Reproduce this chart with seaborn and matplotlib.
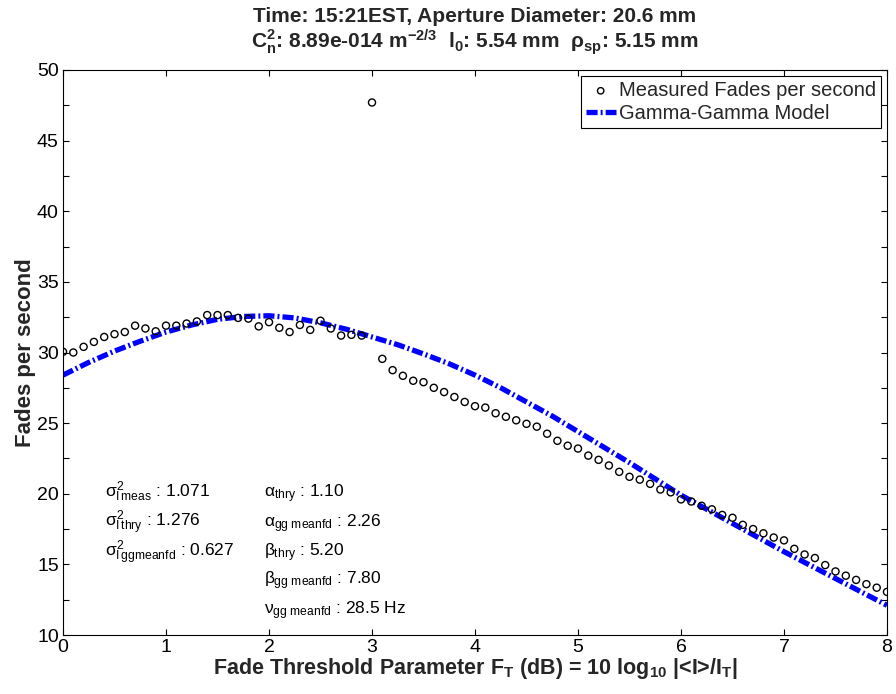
import numpy as np
import pandas as pd
import matplotlib
matplotlib.use("Agg")
import matplotlib.pyplot as plt
import seaborn as sns
from matplotlib.ticker import MultipleLocator

# ---- data ----
x_meas = np.round(np.arange(81) * 0.1, 1)
fades_meas = [30.05, 30.0, 30.4, 30.75, 31.1, 31.3, 31.45, 31.9, 31.7, 31.5,
              31.9, 31.9, 32.05, 32.2, 32.65, 32.65, 32.65, 32.45, 32.4, 31.85,
              32.15, 31.75, 31.45, 31.95, 31.6, 32.25, 31.7, 31.2, 31.25, 31.2,
              47.7, 29.55, 28.75, 28.35, 28.0, 27.9, 27.5, 27.2, 26.85, 26.5,
              26.2, 26.1, 25.7, 25.45, 25.2, 24.95, 24.75, 24.25, 23.75, 23.4,
              23.2, 22.7, 22.4, 22.0, 21.55, 21.2, 21.0, 20.7, 20.3, 20.1,
              19.6, 19.45, 19.15, 18.9, 18.5, 18.3, 17.8, 17.5, 17.2, 16.9,
              16.7, 16.1, 15.7, 15.45, 14.95, 14.5, 14.2, 13.9, 13.6, 13.35,
              13.05]

x_model = [0.0, 0.25, 0.5, 0.75, 1.0, 1.25, 1.5, 1.75, 2.0, 2.25, 2.5, 2.75,
           3.0, 3.25, 3.5, 3.75, 4.0, 4.25, 4.5, 4.75, 5.0, 5.25, 5.5, 5.75,
           6.0, 6.25, 6.5, 6.75, 7.0, 7.25, 7.5, 7.75, 8.0]
fades_model = [28.4, 29.3, 30.1, 30.8, 31.45, 31.95, 32.35, 32.55, 32.6, 32.45,
               32.1, 31.65, 31.1, 30.55, 29.9, 29.2, 28.4, 27.5, 26.5, 25.5,
               24.4, 23.3, 22.2, 21.05, 19.9, 18.9, 17.9, 16.9, 15.9, 14.95,
               14.0, 13.05, 12.1]

x_ticks = [0, 1, 2, 3, 4, 5, 6, 7, 8]
y_ticks = [10, 15, 20, 25, 30, 35, 40, 45, 50]

left_lines = [r"$\sigma^2_{I\,meas}$ : 1.071",
              r"$\sigma^2_{I\,thry}$ : 1.276",
              r"$\sigma^2_{I\,ggmeanfd}$ : 0.627"]
right_lines = [r"$\alpha_{thry}$ : 1.10",
               r"$\alpha_{gg\ meanfd}$ : 2.26",
               r"$\beta_{thry}$ : 5.20",
               r"$\beta_{gg\ meanfd}$ : 7.80",
               r"$\nu_{gg\ meanfd}$ : 28.5 Hz"]
left_y = [19.75, 17.62, 15.55]
right_y = [19.75, 17.62, 15.6, 13.59, 11.47]

# ---- style ----
sns.set_theme(style="ticks")
plt.rcParams["font.family"] = ["Liberation Sans", "DejaVu Sans"]
plt.rcParams["mathtext.fontset"] = "custom"
plt.rcParams["mathtext.rm"] = "Liberation Sans"
plt.rcParams["mathtext.it"] = "Liberation Sans"
plt.rcParams["mathtext.bf"] = "Liberation Sans:bold"
plt.rcParams["lines.scale_dashes"] = False

fig = plt.figure(figsize=(8.96, 6.94), dpi=100)
ax = fig.add_axes([63 / 896, 1 - 635 / 694, (887 - 63) / 896, (635 - 70) / 694])

df_meas = pd.DataFrame({"x": x_meas, "y": fades_meas})
df_model = pd.DataFrame({"x": x_model, "y": fades_model})

sns.scatterplot(data=df_meas, x="x", y="y", ax=ax, marker="o", s=26,
                facecolor="none", edgecolor="black", linewidth=1.0,
                label="Measured Fades per second", zorder=3)
sns.lineplot(data=df_model, x="x", y="y", ax=ax, color="#0000ff", linewidth=3.8,
             label="Gamma-Gamma Model", zorder=2)
ax.lines[-1].set_linestyle((0, (8, 2.2, 1.4, 2.2)))

ax.set_xlim(0, 8)
ax.set_ylim(10, 50)
ax.set_xticks(x_ticks)
ax.set_yticks(y_ticks)
ax.yaxis.set_minor_locator(MultipleLocator(2.5))
ax.tick_params(axis="both", which="both", direction="in", top=True, right=True,
               length=4.5, width=0.8, color="black", labelsize=14, pad=3,
               labelcolor="black")
for s in ax.spines.values():
    s.set_color("black")
    s.set_linewidth(0.8)
ax.set_facecolor("white")

ax.set_xlabel(r"Fade Threshold Parameter F$_\mathbf{T}$ (dB) = 10 log$_\mathbf{10}$ |<I>/I$_\mathbf{T}$|",
              fontsize=15.5, fontweight="bold", labelpad=0)
ax.set_ylabel("Fades per second", fontsize=16, fontweight="bold", labelpad=1)

title = ("Time: 15:21EST, Aperture Diameter: 20.6 mm\n"
         r"C$_\mathbf{n}^\mathbf{2}$: 8.89e-014 m$^\mathbf{-2/3}$  l$_\mathbf{0}$: 5.54 mm  "
         r"$\mathbf{\rho}_\mathbf{sp}$: 5.15 mm")
ax.set_title(title, fontsize=15, fontweight="bold", pad=16, linespacing=1.05)

for t, yy in zip(left_lines, left_y):
    ax.text(0.41, yy, t, fontsize=12.5, va="baseline", ha="left", color="black")
for t, yy in zip(right_lines, right_y):
    ax.text(1.95, yy, t, fontsize=12.5, va="baseline", ha="left", color="black")

leg = ax.legend(loc="upper right", fontsize=14.5, frameon=True, fancybox=False,
                framealpha=1, edgecolor="black", borderaxespad=0.3,
                handlelength=1.5, handletextpad=0.15, borderpad=0.25,
                labelspacing=0.2, markerscale=0.9)
leg.get_frame().set_linewidth(0.8)

fig.savefig("out.png", dpi=100, facecolor="white")
